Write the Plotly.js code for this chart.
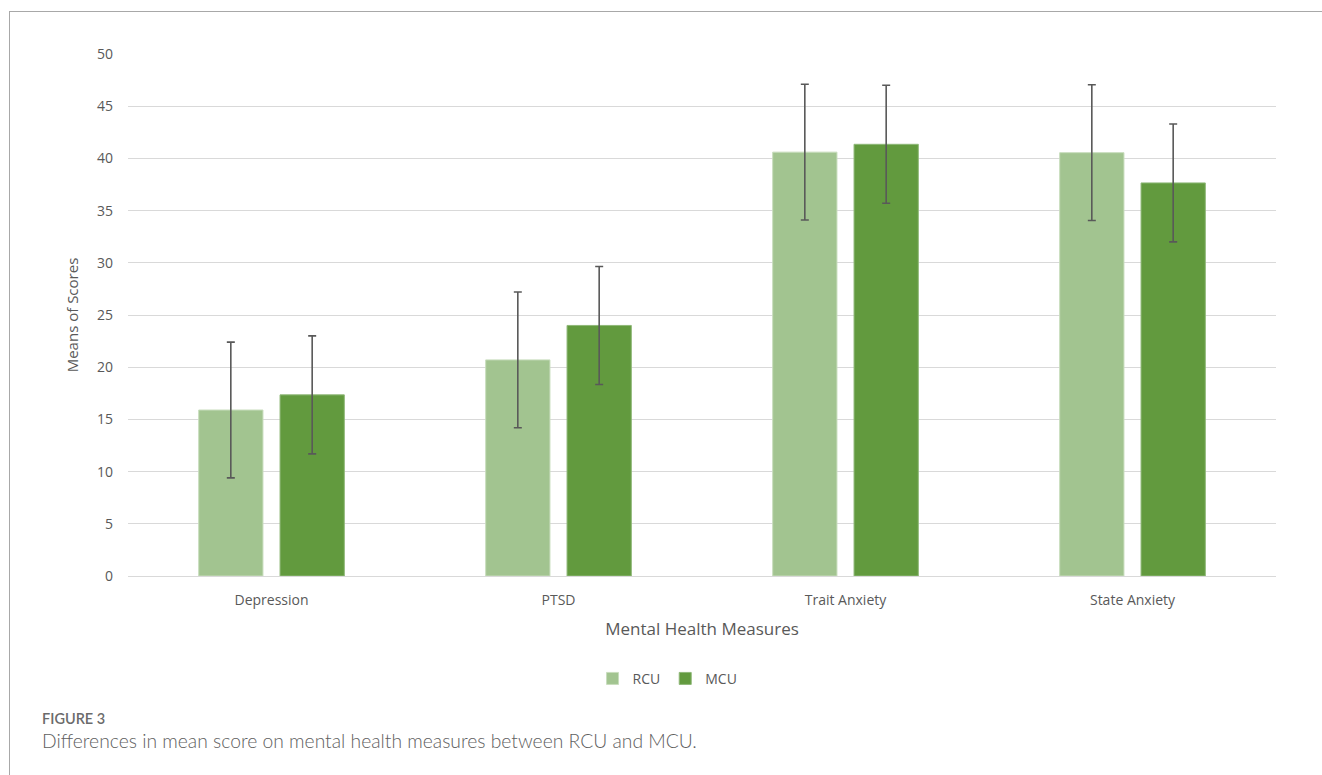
<!DOCTYPE html>
<html>
<head>
<meta charset="utf-8">
<script src="https://cdn.plot.ly/plotly-3.0.1.min.js"></script>
<style>
html,body{margin:0;padding:0;background:#fff;}
#frame{position:absolute;left:9px;top:11px;width:1313px;height:764px;border-left:1px solid #a8a8a8;border-top:1px solid #a8a8a8;box-sizing:border-box;pointer-events:none;z-index:5;}
#chart{position:absolute;left:0;top:0;width:1322px;height:775px;}
</style>
</head>
<body>
<div id="chart"></div>
<div id="frame"></div>
<script>
const categories = ["Depression", "PTSD", "Trait Anxiety", "State Anxiety"];
const rcuMeans = [15.9, 20.7, 40.6, 40.55];
const rcuErr = [6.5, 6.5, 6.5, 6.5];
const mcuMeans = [17.35, 24.0, 41.35, 37.65];
const mcuErr = [5.65, 5.65, 5.65, 5.65];
const yTicks = [0, 5, 10, 15, 20, 25, 30, 35, 40, 45, 50];

const textColor = "#595959";
const errStyle = (arr) => ({type: "data", array: arr, visible: true, color: "#595959", thickness: 1.6, width: 4});

const traces = [
  {type: "bar", name: "RCU", x: categories, y: rcuMeans, error_y: errStyle(rcuErr),
   marker: {color: "#a2c490", line: {color: "#c8ddbd", width: 1}}},
  {type: "bar", name: "MCU", x: categories, y: mcuMeans, error_y: errStyle(mcuErr),
   marker: {color: "#629a3e", line: {color: "#8fb878", width: 1}}}
];

const layout = {
  width: 1322, height: 775,
  margin: {l: 128, r: 46, t: 54, b: 199},
  paper_bgcolor: "#ffffff", plot_bgcolor: "#ffffff",
  font: {family: "Open Sans, sans-serif", color: textColor, size: 14},
  barmode: "group", bargap: 0.433, bargroupgap: 0.21,
  showlegend: true,
  legend: {orientation: "h", x: 0.470, xanchor: "center", y: -0.197, yanchor: "middle",
           font: {size: 14, color: textColor}, itemwidth: 30, traceorder: "normal"},
  xaxis: {
    showgrid: false, showline: true, linecolor: "#d9d9d9", linewidth: 1,
    ticks: "", tickfont: {size: 14, color: textColor}, ticklabelstandoff: 11,
    title: {text: "Mental Health Measures", font: {size: 17, color: textColor}, standoff: 15}
  },
  yaxis: {
    range: [0, 50], tickvals: yTicks, showgrid: true, gridcolor: "#d9d9d9", gridwidth: 1,
    zeroline: true, zerolinecolor: "#d9d9d9", zerolinewidth: 1,
    ticks: "", tickfont: {size: 14, color: textColor}, ticklabelstandoff: 14,
    title: {text: "Means of Scores", font: {size: 15, color: textColor}, standoff: 14}
  },
  annotations: [
    {xref: "paper", yref: "paper", x: -0.0767, y: -0.273, xanchor: "left", yanchor: "middle",
     text: "FIGURE 3", showarrow: false, font: {family: "Lato, sans-serif", size: 14.5, color: "#6b6b6b", weight: 600}},
    {xref: "paper", yref: "paper", x: -0.0767, y: -0.316, xanchor: "left", yanchor: "middle",
     text: "Differences in mean score on mental health measures between RCU and MCU.", showarrow: false,
     font: {family: "Lato, sans-serif", size: 19.3, color: "#606060", weight: 300}}
  ]
};

Plotly.newPlot("chart", traces, layout, {displayModeBar: false, staticPlot: true});
</script>
</body>
</html>
